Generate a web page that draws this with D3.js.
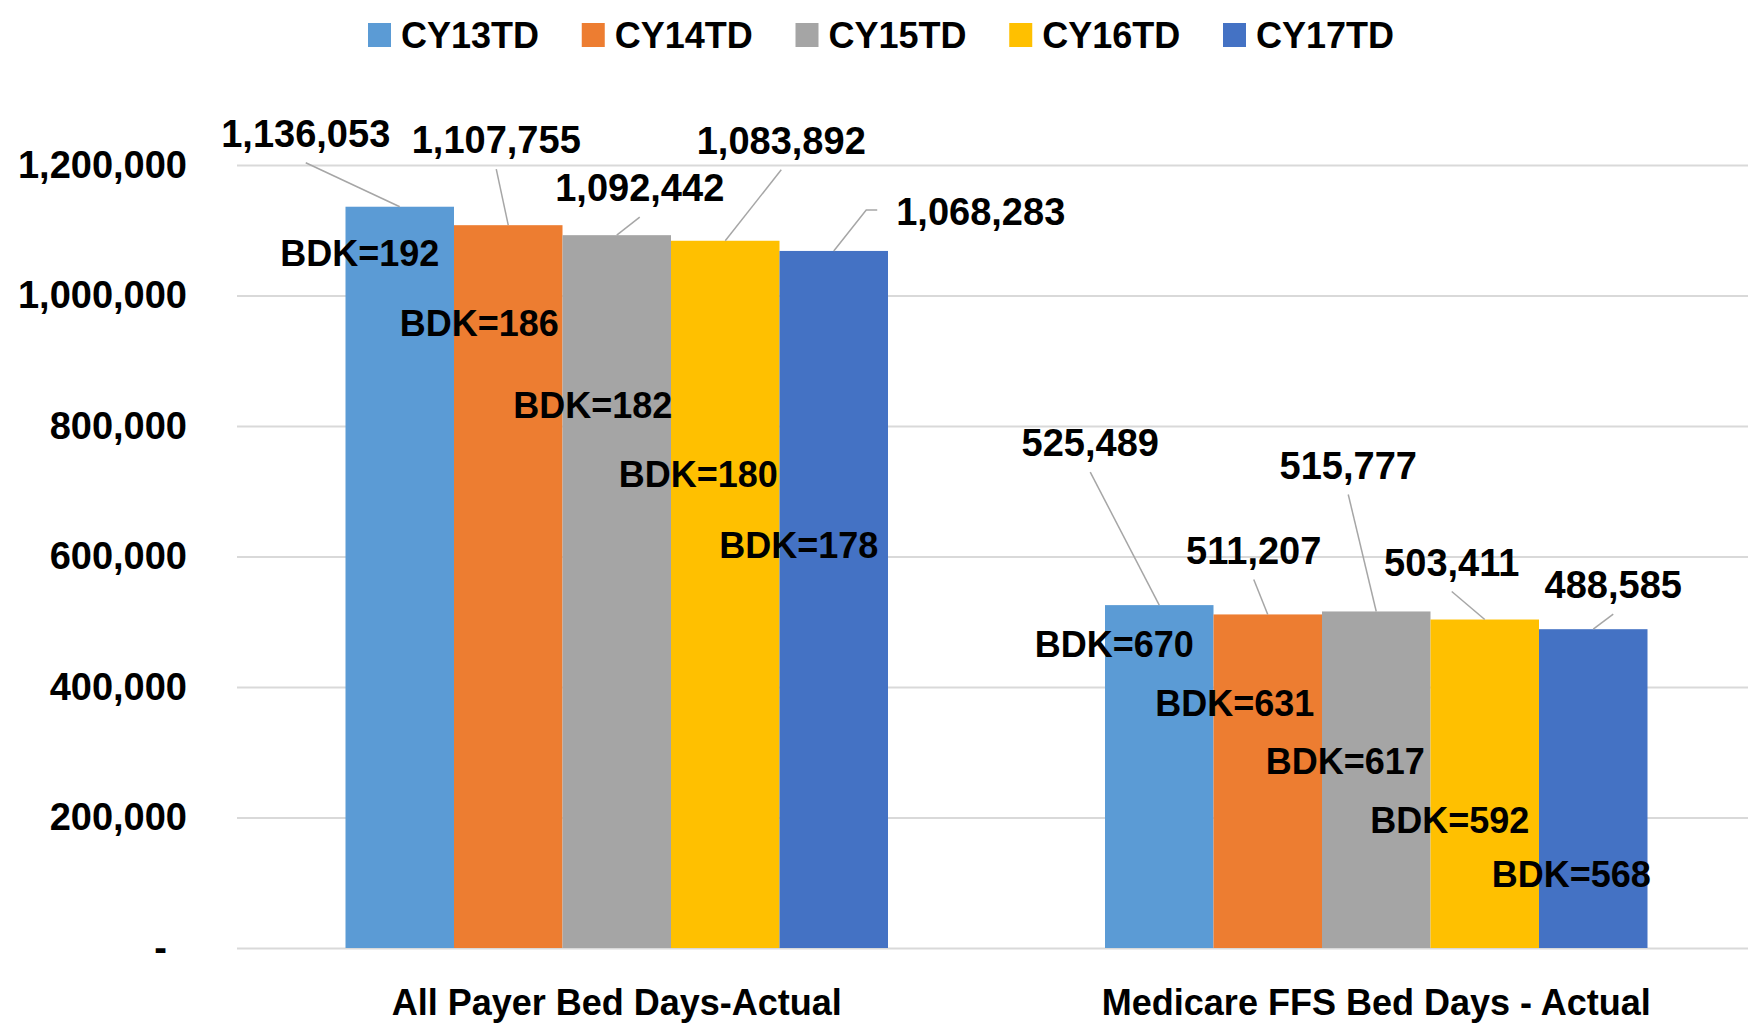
<!DOCTYPE html>
<html>
<head>
<meta charset="utf-8">
<script src="https://cdn.jsdelivr.net/npm/d3@7"></script>
<style>
  body { margin: 0; background: #fff; }
  text { font-family: "Liberation Sans", Arial, sans-serif; font-weight: bold; fill: #000; }
</style>
</head>
<body>
<div id="container"></div>
<script>
/* DATA */
const categories = ["All Payer Bed Days-Actual", "Medicare FFS Bed Days - Actual"];
const years = ["CY13TD", "CY14TD", "CY15TD", "CY16TD", "CY17TD"];
const allPayer = [1136053, 1107755, 1092442, 1083892, 1068283];
const medicare = [525489, 511207, 515777, 503411, 488585];
const bdkAllPayer = [192, 186, 182, 180, 178];
const bdkMedicare = [670, 631, 617, 592, 568];
const yTicks = [0, 200000, 400000, 600000, 800000, 1000000, 1200000];
const colors = ["#5B9BD5", "#ED7D31", "#A5A5A5", "#FFC000", "#4472C4"];

/* LABEL LAYOUT (pixel offsets from each bar's top centre, as dragged in the original) */
const valueOffsets = [
  [[-94, -73], [-12, -85], [23, -47], [56, -100], [147, -39]],
  [[-69, -162], [-14, -64], [-28, -146], [-33, -57], [20, -44]]
];
const bdkOffsets = [
  [[-40, 47], [-29, 98], [-24, 170], [-27, 234], [-35, 294]],
  [[-45, 39], [-33, 89], [-31, 150], [-35, 201], [-22, 245]]
];

const width = 1748, height = 1024;
const plotLeft = 237, plotRight = 1756, plotTop = 165, plotBottom = 948;
const numSize = 38, textSize = 36;

const svg = d3.select("#container")
  .append("svg")
  .attr("width", width)
  .attr("height", height);

const x0 = d3.scaleBand().domain(categories).range([plotLeft, plotRight]);
const x1 = d3.scaleBand().domain(years).range([0, x0.bandwidth()]).paddingOuter(1);
const y = d3.scaleLinear().domain([0, 1200000]).range([plotBottom, plotTop]);

// gridlines + y labels
const yAxis = svg.append("g")
  .attr("transform", `translate(${plotLeft},0)`)
  .call(d3.axisLeft(y)
    .tickValues(yTicks)
    .tickSize(-(width - plotLeft))
    .tickPadding(50)
    .tickFormat(d => d === 0 ? "-" : d3.format(",")(d)));
yAxis.select(".domain").remove();
yAxis.selectAll(".tick line").attr("stroke", "#D9D9D9").attr("stroke-width", 2);
yAxis.selectAll(".tick text")
  .attr("font-size", numSize)
  .attr("dx", d => d === 0 ? -20 : 0);

const series = [allPayer, medicare];
const bdks = [bdkAllPayer, bdkMedicare];

const rows = [];
categories.forEach((c, ci) => {
  years.forEach((yr, yi) => {
    rows.push({ cat: c, ci, year: yr, yi, value: series[ci][yi], bdk: bdks[ci][yi] });
  });
});

// bars
svg.selectAll(".bar")
  .data(rows)
  .enter()
  .append("rect")
  .attr("class", "bar")
  .attr("x", d => x0(d.cat) + x1(d.year))
  .attr("y", d => y(d.value))
  .attr("width", x1.bandwidth())
  .attr("height", d => y(0) - y(d.value))
  .attr("fill", d => colors[d.yi]);

// value labels with leader lines
const barCx = d => x0(d.cat) + x1(d.year) + x1.bandwidth() / 2;
const leaders = svg.append("g");
const labels = svg.append("g");

rows.forEach(d => {
  const ax = barCx(d), ay = y(d.value);
  const [ox, oy] = valueOffsets[d.ci][d.yi];
  const cx = ax + ox, cy = ay + oy;
  const t = labels.append("text")
    .attr("x", cx)
    .attr("y", cy)
    .attr("dy", "0.35em")
    .attr("text-anchor", "middle")
    .attr("font-size", numSize)
    .text(d3.format(",")(d.value));
  const w = t.node().getComputedTextLength();
  let pts;
  if (ox > w / 2) {
    // label sits off to the right: leader attaches at its left side
    const left = cx - w / 2;
    pts = [[left - 19, cy - 2], [left - 30, cy - 2], [ax, ay]];
  } else {
    pts = [[cx, cy + 29], [ax, ay]];
  }
  leaders.append("path")
    .attr("d", d3.line()(pts))
    .attr("fill", "none")
    .attr("stroke", "#A6A6A6")
    .attr("stroke-width", 1.5);
});

// BDK labels
svg.append("g").selectAll("text")
  .data(rows)
  .enter()
  .append("text")
  .attr("x", d => barCx(d) + bdkOffsets[d.ci][d.yi][0])
  .attr("y", d => y(d.value) + bdkOffsets[d.ci][d.yi][1])
  .attr("dy", "0.35em")
  .attr("text-anchor", "middle")
  .attr("font-size", textSize)
  .text(d => "BDK=" + d.bdk);

// category labels
svg.append("g").selectAll("text")
  .data(categories)
  .enter()
  .append("text")
  .attr("x", d => x0(d) + x0.bandwidth() / 2)
  .attr("y", 1015)
  .attr("text-anchor", "middle")
  .attr("font-size", textSize)
  .text(d => d);

// legend
const legend = svg.append("g").selectAll("g")
  .data(years)
  .enter()
  .append("g")
  .attr("transform", (d, i) => `translate(${368 + i * 213.75},0)`);
legend.append("rect")
  .attr("y", 23)
  .attr("width", 23)
  .attr("height", 24)
  .attr("fill", (d, i) => colors[i]);
legend.append("text")
  .attr("x", 33)
  .attr("y", 48)
  .attr("font-size", textSize)
  .text(d => d);
</script>
</body>
</html>
